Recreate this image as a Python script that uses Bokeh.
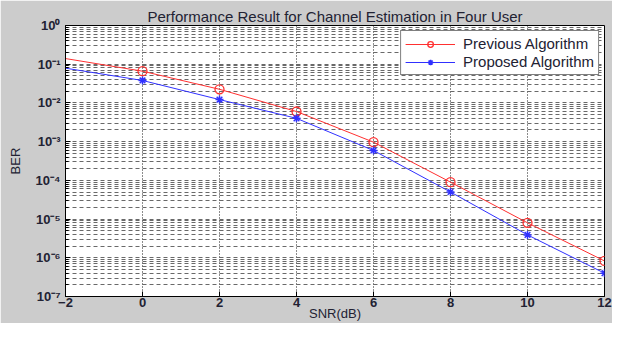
from bokeh.plotting import figure
from bokeh.models import FixedTicker, CustomJSTickFormatter, Range1d, Legend, LegendItem
from bokeh.embed import file_html
from bokeh.resources import INLINE

# ---- data ----
snr_line = [-2, 0, 2, 4, 6, 8, 10, 12]
prev_ber = [0.14, 0.066, 0.0225, 0.0060, 0.00097, 9.0e-5, 8.0e-6, 8.3e-7]
prop_ber = [0.079, 0.038, 0.0122, 0.0040, 0.00059, 5.0e-5, 3.9e-6, 4.0e-7]
snr_marker = [0, 2, 4, 6, 8, 10, 12]
prev_marker = prev_ber[1:]
prop_marker = prop_ber[1:]

x_ticks = [-2, 0, 2, 4, 6, 8, 10, 12]
y_ticks = [1e-7, 1e-6, 1e-5, 1e-4, 1e-3, 1e-2, 1e-1, 1e0]
y_tick_labels = ["10\u207b\u2077", "10\u207b\u2076", "10\u207b\u2075", "10\u207b\u2074",
                 "10\u207b\u00b3", "10\u207b\u00b2", "10\u207b\u00b9", "10\u2070"]
y_minor = [k * 10.0 ** e for e in range(-7, 0) for k in range(2, 10)]

title = "Performance Result for Channel Estimation in Four User"
series_names = ["Previous Algorithm", "Proposed Algorithm"]

BG = "#cccccc"
TXT = "#222233"
FONT = "Liberation Sans"

p = figure(width=612, height=323, y_axis_type="log",
           x_range=Range1d(-2, 12), y_range=Range1d(1e-7, 1.0),
           output_backend="svg", toolbar_location=None,
           background_fill_color="white", border_fill_color=BG,
           min_border_left=65, min_border_right=8, min_border_top=25, min_border_bottom=5)

p.title.text = title
p.title.align = "center"
p.title.text_font = FONT
p.title.text_font_size = "15px"
p.title.text_font_style = "normal"
p.title.text_color = TXT
p.title.standoff = 2

p.outline_line_color = "black"
p.outline_line_width = 1

# axes
p.xaxis.ticker = FixedTicker(ticks=x_ticks)
p.yaxis.ticker = FixedTicker(ticks=y_ticks, minor_ticks=y_minor)
p.yaxis.formatter = CustomJSTickFormatter(args=dict(vals=y_ticks, labels=y_tick_labels), code="""
    let best = 0, bd = 1e9;
    for (let i = 0; i < vals.length; i++) {
        const d = Math.abs(Math.log10(tick) - Math.log10(vals[i]));
        if (d < bd) { bd = d; best = i; }
    }
    return labels[best];
""")
for ax in (p.xaxis, p.yaxis):
    ax.axis_line_color = "black"
    ax.major_tick_line_color = "black"
    ax.minor_tick_line_color = "black"
    ax.major_tick_in = 5
    ax.major_tick_out = 0
    ax.minor_tick_in = 3
    ax.minor_tick_out = 0
    ax.major_label_text_font = FONT
    ax.major_label_text_font_size = "13px"
    ax.major_label_text_color = TXT
    ax.major_label_text_font_style = "bold"
    ax.axis_label_text_font = FONT
    ax.axis_label_text_font_size = "13px"
    ax.axis_label_text_font_style = "normal"
    ax.axis_label_text_color = TXT

p.xaxis.axis_label = "SNR(dB)"
p.yaxis.axis_label = "BER"
p.xaxis.major_label_standoff = 1
p.xaxis.axis_label_standoff = -4
p.yaxis.major_label_standoff = 5
p.yaxis.axis_label_standoff = 10

# grids
p.xgrid.grid_line_color = "black"
p.xgrid.grid_line_dash = "1 2"
p.xgrid.grid_line_width = 1
p.xgrid.grid_line_alpha = 0.9

p.ygrid.grid_line_color = "#444444"
p.ygrid.grid_line_dash = "4 3"
p.ygrid.grid_line_alpha = 0.8
p.ygrid.minor_grid_line_color = "#444444"
p.ygrid.minor_grid_line_dash = "4 3"
p.ygrid.minor_grid_line_alpha = 0.8

# series
RED = "#ff3030"
BLUE = "#3030ff"
l1 = p.line(snr_line, prev_ber, line_color=RED, line_width=1)
m1 = p.scatter(snr_marker, prev_marker, marker="circle", size=9, fill_color=None,
               line_color=RED, line_width=1.3)
l2 = p.line(snr_line, prop_ber, line_color=BLUE, line_width=1)
m2 = p.scatter(snr_marker, prop_marker, marker="asterisk", size=8,
               line_color=BLUE, line_width=1.5)

legend = Legend(items=[LegendItem(label=series_names[0], renderers=[l1, m1]),
                       LegendItem(label=series_names[1], renderers=[l2, m2])],
                location="top_right")
legend.label_text_font = FONT
legend.label_text_font_size = "15px"
legend.label_text_color = TXT
legend.border_line_color = "black"
legend.border_line_width = 1
legend.background_fill_color = "white"
legend.background_fill_alpha = 1
legend.glyph_width = 50
legend.glyph_height = 14
legend.label_height = 14
legend.spacing = 1
legend.padding = 4
legend.margin = 5
legend.label_standoff = 8
p.add_layout(legend)

open("out.html", "w").write(file_html(p, INLINE))
